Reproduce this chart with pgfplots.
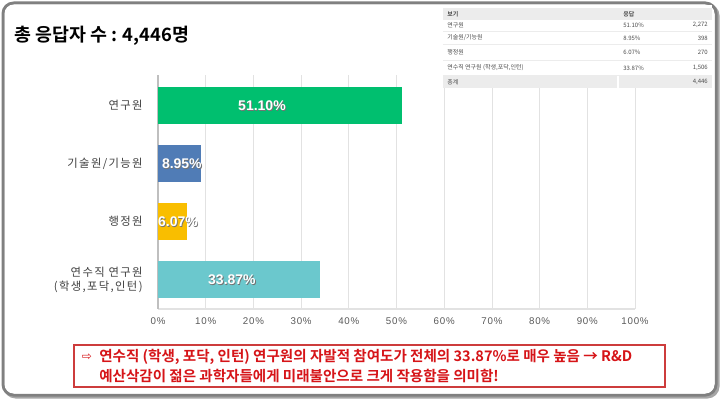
\documentclass[border=0pt]{standalone}
\usepackage{fontspec}
\usepackage{pgfplots}
\pgfplotsset{compat=1.18}
\setmainfont{Liberation Sans}
\newfontfamily\kr{Noto Sans CJK KR}
\newfontfamily\krsp{Noto Sans CJK KR}[LetterSpace=12]
\newfontfamily\krb{Noto Sans CJK KR Bold}
\newfontfamily\dejavu{DejaVu Sans}
\newfontfamily\ticksf{Liberation Sans}[LetterSpace=8]
\definecolor{cgreen}{RGB}{0,191,111}
\definecolor{cblue}{RGB}{80,124,182}
\definecolor{cyellow}{RGB}{249,190,0}
\definecolor{cteal}{RGB}{107,200,205}
\definecolor{cred}{RGB}{214,20,24}
\definecolor{boxred}{RGB}{205,60,60}
\definecolor{gridc}{RGB}{226,226,226}
\definecolor{tblgray}{RGB}{236,236,236}
\newcommand{\barlabel}[3]{%
  \node[text=black!55, font=\bfseries\fontsize{10.5}{12}\selectfont] at ([xshift=0.6pt,yshift=-0.6pt]axis cs:#1,#2) {#3};
  \node[text=white, font=\bfseries\fontsize{10.5}{12}\selectfont] at (axis cs:#1,#2) {#3};}
\begin{document}
\begin{tikzpicture}[x=0.75pt,y=-0.75pt]
\path[use as bounding box] (0,0) rectangle (720,399);
\fill[white] (0,0) rectangle (720,399);
% outer frame with shadow
\draw[black!35, line width=2.25pt, rounded corners=8pt] (5,5) rectangle (718,397);
\draw[black!50, line width=2.25pt, rounded corners=8pt] (3,3) rectangle (716,395);
\fill[white, rounded corners=7pt] (4.5,4.5) rectangle (714.5,393.5);
% title
\node[anchor=west, inner sep=0pt, font=\krb\fontsize{13.8}{16}\selectfont] at (14,36) {총 응답자 수 : 4,446명};
% chart
\begin{axis}[
  at={(118.5pt,-231.75pt)}, anchor=south west,
  scale only axis, width=357.75pt, height=175.5pt,
  xbar, xmin=0, xmax=100, ymin=-0.53, ymax=3.51, y dir=reverse,
  enlargelimits=false,
  bar width=27.75pt,
  /pgf/number format/assume math mode=true,
  xtick={0,10,...,100},
  xticklabel={\pgfmathprintnumber{\tick}\%},
  xticklabel style={font=\ticksf\fontsize{7.3}{9}\selectfont, text=black!65, yshift=-3pt},
  ytick={0,1,2,3},
  yticklabels={연구원,기술원/기능원,행정원,{연수직 연구원\\(학생,포닥,인턴)}},
  yticklabel style={font=\krsp\fontsize{8.5}{10.5}\selectfont, text=black!75, align=right, xshift=-8pt},
  xmajorgrids, grid style={gridc, line width=0.6pt},
  axis x line*=bottom, axis y line*=left,
  x axis line style={gridc, line width=0.8pt},
  y axis line style={black!25, line width=0.8pt},
  major tick length=0pt,
  clip=false,
]
\addplot[fill=cgreen, draw=none, bar shift=0pt] coordinates {(51.10,0)};
\addplot[fill=cblue, draw=none, bar shift=0pt] coordinates {(8.95,1)};
\addplot[fill=cyellow, draw=none, bar shift=0pt] coordinates {(6.07,2)};
\addplot[fill=cteal, draw=none, bar shift=0pt] coordinates {(33.87,3)};
\barlabel{21.8}{0}{51.10\%}
\barlabel{5.0}{1}{8.95\%}
\barlabel{4.2}{2}{6.07\%}
\barlabel{15.5}{3}{33.87\%}
\end{axis}
% table (top right)
\fill[white] (443,5) rectangle (712,88);
\fill[tblgray] (443,8) rectangle (712,20);
\fill[tblgray] (443,76) rectangle (712,88);
\draw[white, line width=0.8pt] (618,76) -- (618,88);
\foreach \yy in {31,44,60,75} {\draw[tblgray, line width=0.5pt] (443,\yy) -- (712,\yy);}
\begin{scope}[every node/.style={inner sep=0pt, text=black!70, font=\kr\fontsize{4.5}{5}\selectfont}]
\node[anchor=west, font=\krb\fontsize{4.5}{5}\selectfont] at (447,14) {보기};
\node[anchor=west, font=\krb\fontsize{4.5}{5}\selectfont] at (623,14) {응답};
\node[anchor=west] at (447,25) {연구원};
\node[anchor=west] at (447,38) {기술원/기능원};
\node[anchor=west] at (447,52) {행정원};
\node[anchor=west] at (447,68) {연수직 연구원 (학생,포닥,인턴)};
\node[anchor=west] at (447,82) {총계};
\node[anchor=west] at (623,25) {51.10\%};
\node[anchor=west] at (623,38) {8.95\%};
\node[anchor=west] at (623,52) {6.07\%};
\node[anchor=west] at (623,68) {33.87\%};
\node[anchor=east] at (708,25) {2,272};
\node[anchor=east] at (708,38) {398};
\node[anchor=east] at (708,52) {270};
\node[anchor=east] at (708,68) {1,506};
\node[anchor=east] at (708,82) {4,446};
\end{scope}
% bottom note box
\draw[boxred, line width=0.8pt] (74,345) rectangle (665,387);
\node[anchor=center, inner sep=0pt, text=cred, font=\dejavu\fontsize{9}{10}\selectfont] at (87,357) {⇨};
\node[anchor=west, inner sep=0pt, text=cred, font=\krb\fontsize{10.9}{12}\selectfont] at (99,357) {연수직 (학생, 포닥, 인턴) 연구원의 자발적 참여도가 전체의 33.87\%로 매우 높음 → R\&D};
\node[anchor=west, inner sep=0pt, text=cred, font=\krb\fontsize{10.9}{12}\selectfont] at (99,376) {예산삭감이 젊은 과학자들에게 미래불안으로 크게 작용함을 의미함!};
\end{tikzpicture}
\end{document}
